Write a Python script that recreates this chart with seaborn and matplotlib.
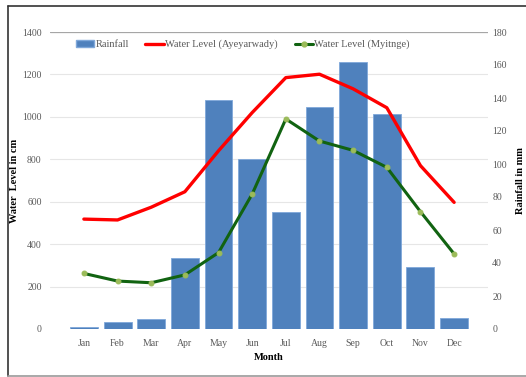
import numpy as np
import matplotlib
matplotlib.use('Agg')
import matplotlib.pyplot as plt
import seaborn as sns
import pandas as pd
from matplotlib.lines import Line2D
from matplotlib.patches import Patch
from matplotlib.ticker import FixedLocator

months = ['Jan', 'Feb', 'Mar', 'Apr', 'May', 'Jun', 'Jul', 'Aug', 'Sep', 'Oct', 'Nov', 'Dec']
rainfall = [1.5, 4.2, 5.9, 43.2, 138.8, 102.8, 71.0, 134.7, 162.0, 130.0, 37.8, 6.5]
level_ayeyarwady = [518, 514, 574, 647, 840, 1020, 1185, 1201, 1132, 1043, 770, 597]
level_myitnge = [262, 226, 218, 255, 360, 636, 990, 886, 842, 762, 553, 354]

df = pd.DataFrame({'Month': months, 'Rainfall': rainfall,
                   'Ayeyarwady': level_ayeyarwady, 'Myitnge': level_myitnge})

sns.set_style('white')
plt.rcParams['font.family'] = ['Liberation Serif', 'DejaVu Serif']

tick_col = '#595959'
bar_col = '#4F81BD'
red = '#FF0000'
green = '#116311'
marker_col = '#9BBB59'

fig = plt.figure(figsize=(5.26, 3.77), dpi=100)

# outer frame of the picture
fig.add_artist(Line2D([8/526, 8/526], [1/377, 1 - 6/377], transform=fig.transFigure, color='#333333', lw=1.2))
fig.add_artist(Line2D([8/526, 1], [1 - 6/377, 1 - 6/377], transform=fig.transFigure, color='#333333', lw=1.2))
fig.add_artist(Line2D([8/526, 1], [1/377, 1/377], transform=fig.transFigure, color='#999999', lw=1.2))

# bars (rainfall) live on the lower axes so that the grid sits behind them
ax = fig.add_axes([50/526, 1 - 329/377, 438/526, 297/377])
sns.barplot(data=df, x='Month', y='Rainfall', ax=ax, color=bar_col, saturation=1,
            width=0.83, edgecolor='#7FA8DA', linewidth=0.6, zorder=2)
ax.set_ylim(0, 180)

# water level lines
ax2 = ax.twinx()
sns.lineplot(data=df, x='Month', y='Ayeyarwady', ax=ax2, color=red, lw=2.4, sort=False)
sns.lineplot(data=df, x='Month', y='Myitnge', ax=ax2, color=green, lw=2.2, sort=False,
             marker='o', markersize=3.5, markerfacecolor=marker_col, markeredgecolor=marker_col)
ax2.set_ylim(0, 1400)

# rainfall scale on the right, water level on the left
ax.yaxis.tick_right()
ax.yaxis.set_label_position('right')
ax2.yaxis.tick_left()
ax2.yaxis.set_label_position('left')

ax.set_yticks(np.arange(0, 181, 20))
# grid lines follow the water level ticks (every 200 cm)
ax.yaxis.set_minor_locator(FixedLocator(np.arange(0, 1401, 200) * 180 / 1400))
ax.grid(axis='y', which='minor', color='#E6E6E6', lw=0.8, zorder=0)
ax.grid(axis='y', which='major', visible=False)
ax.tick_params(axis='y', which='both', length=0, labelsize=7, colors=tick_col, pad=3)
ax.tick_params(axis='x', length=0, labelsize=7, colors=tick_col, pad=7)
ax.set_ylabel('Rainfall in mm', fontsize=7.5, fontweight='bold', color='black')
ax.yaxis.set_label_coords(1.064, 0.5)
ax.set_xlabel('Month', fontsize=7.5, fontweight='bold', labelpad=4, color='black')
for s in ax.spines.values():
    s.set_visible(False)
ax.axhline(180, color='#A6A6A6', lw=0.9, zorder=1)

ax2.set_yticks(np.arange(0, 1401, 200))
ax2.tick_params(axis='y', length=0, labelsize=7, colors=tick_col, pad=6)
ax2.set_ylabel('Water  Level in cm', fontsize=7.5, fontweight='bold', color='black')
ax2.yaxis.set_label_coords(-0.071, 0.5)
for s in ax2.spines.values():
    s.set_visible(False)

handles = [Patch(facecolor=bar_col, edgecolor='#7FA8DA'),
           Line2D([], [], color=red, lw=2.4),
           Line2D([], [], color=green, lw=2.2, marker='o', markersize=3.5,
                  markerfacecolor=marker_col, markeredgecolor=marker_col)]
labels = ['Rainfall', 'Water Level (Ayeyarwady)', 'Water Level (Myitnge)']
ax2.legend(handles, labels, loc='upper center', bbox_to_anchor=(0.44, 1.005), ncol=3,
           frameon=False, fontsize=7.5, handlelength=1.8, handletextpad=0.1,
           columnspacing=1.6, labelcolor=tick_col)

fig.savefig('out.png', dpi=100)
